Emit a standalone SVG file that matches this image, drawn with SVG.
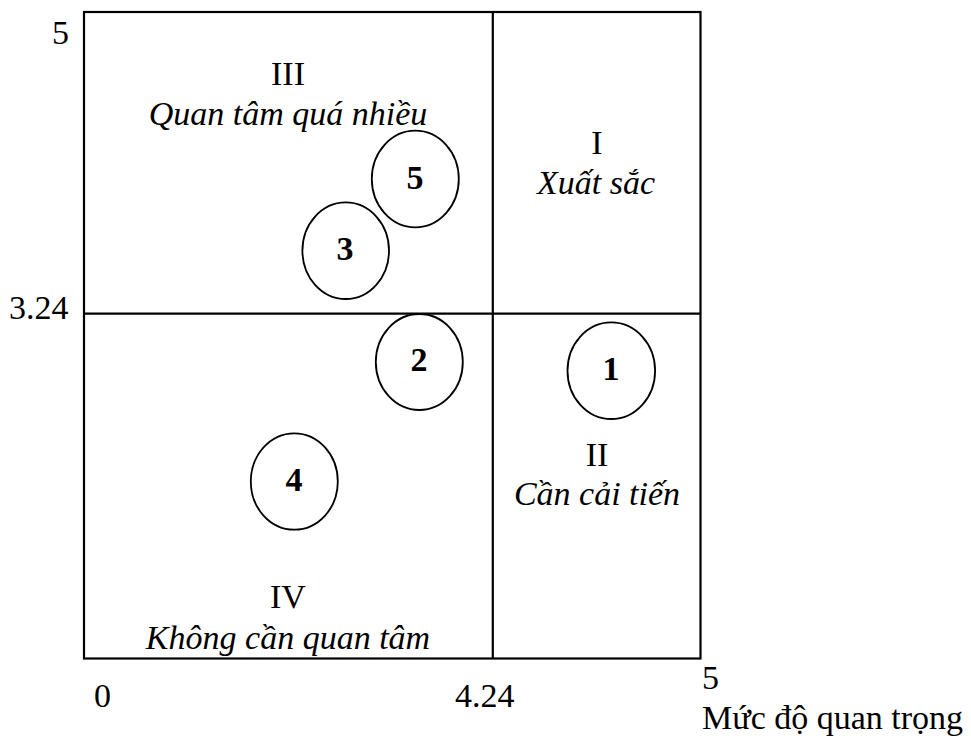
<svg xmlns="http://www.w3.org/2000/svg" width="971" height="740" viewBox="0 0 971 740">
  <style>
    text { font-family: "Liberation Serif", "Times New Roman", serif; font-size: 34px; fill: #000; }
    .mid { text-anchor: middle; }
    .it { font-style: italic; }
    .num { font-weight: bold; text-anchor: middle; }
    .frame { fill: none; stroke: #000; stroke-width: 2.2; }
    .bubble { fill: none; stroke: #000; stroke-width: 1.8; }
  </style>
  <rect width="971" height="740" fill="#fff"/>

  <!-- quadrant frame and dividers -->
  <g id="grid">
    <rect class="frame" x="84" y="12" width="616.5" height="646.5"/>
    <line class="frame" x1="492.8" y1="12" x2="492.8" y2="658.5"/>
    <line class="frame" x1="84" y1="313.6" x2="700.5" y2="313.6"/>
  </g>

  <!-- axis values -->
  <g id="axes">
    <text x="52" y="44">5</text>
    <text x="9" y="319">3.24</text>
    <text x="94" y="707">0</text>
    <text x="455" y="707">4.24</text>
    <text x="702" y="689">5</text>
    <text x="702" y="729">Mức độ quan trọng</text>
  </g>

  <!-- quadrant labels -->
  <g id="quadrant-III">
    <text class="mid" x="288" y="85">III</text>
    <text class="mid it" x="288" y="125">Quan tâm quá nhiều</text>
  </g>
  <g id="quadrant-I">
    <text class="mid" x="597" y="154">I</text>
    <text class="mid it" x="596" y="194">Xuất sắc</text>
  </g>
  <g id="quadrant-II">
    <text class="mid" x="597" y="466">II</text>
    <text class="mid it" x="597" y="505">Cần cải tiến</text>
  </g>
  <g id="quadrant-IV">
    <text class="mid" x="288" y="608">IV</text>
    <text class="mid it" x="288" y="649">Không cần quan tâm</text>
  </g>

  <!-- numbered items -->
  <g id="item-5">
    <ellipse class="bubble" cx="415.3" cy="179" rx="43.5" ry="48.3"/>
    <text class="num" x="415" y="189">5</text>
  </g>
  <g id="item-3">
    <ellipse class="bubble" cx="345.7" cy="250.7" rx="43.3" ry="48.3"/>
    <text class="num" x="345" y="259.5">3</text>
  </g>
  <g id="item-2">
    <ellipse class="bubble" cx="419.3" cy="362" rx="43.5" ry="48"/>
    <text class="num" x="419" y="370.5">2</text>
  </g>
  <g id="item-4">
    <ellipse class="bubble" cx="294.3" cy="481.5" rx="43.5" ry="48.2"/>
    <text class="num" x="294" y="491">4</text>
  </g>
  <g id="item-1">
    <ellipse class="bubble" cx="611.3" cy="370.7" rx="43.8" ry="48.3"/>
    <text class="num" x="611" y="380">1</text>
  </g>

  <!-- no connectors in this chart -->
  <g id="connectors"/>
</svg>
